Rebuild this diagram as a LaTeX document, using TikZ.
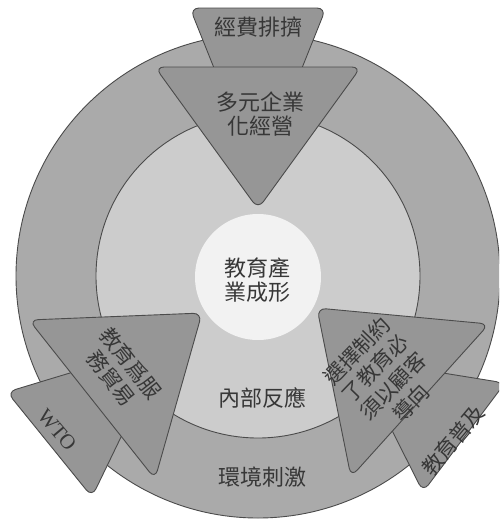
\documentclass[tikz,border=0pt]{standalone}
\usepackage{fontspec}
\newfontfamily\cjk{Noto Sans CJK TC}
\newfontfamily\wtofont{Liberation Serif}
\definecolor{outerring}{RGB}{170,170,170}
\definecolor{innerring}{RGB}{204,204,204}
\definecolor{hubfill}{RGB}{242,242,242}
\definecolor{trifill}{RGB}{150,150,150}
\definecolor{edgegray}{RGB}{75,75,75}
\definecolor{inkgray}{RGB}{55,55,55}
\begin{document}
\begin{tikzpicture}[x=1pt,y=-1pt,
  ringline/.style={draw=edgegray, line width=0.9pt},
  tribox/.style={fill=trifill, draw=edgegray, line width=0.9pt, rounded corners=9pt},
  cjktext/.style={text=inkgray, font=\cjk\fontsize{22}{24}\selectfont, align=center, inner sep=0pt},
  smallcjk/.style={text=inkgray, font=\cjk\fontsize{21}{25}\selectfont, align=center, inner sep=0pt},
  wtotext/.style={text=inkgray, font=\wtofont\fontsize{21}{24}\selectfont, inner sep=0pt}]
\useasboundingbox (0,0) rectangle (499,520);
\begin{scope}
\clip (0,0) rectangle (499,520);
% rings
\filldraw[fill=outerring, ringline] (258,276) circle[radius=242];
\filldraw[fill=innerring, ringline] (258,276) circle[radius=162];
\fill[hubfill] (258,277) circle[radius=63];
% back triangles
\filldraw[tribox] (190,8) -- (326,8) -- (258,178) -- cycle;
\filldraw[tribox] (7,392) -- (166,344) -- (92,497) -- cycle;
\filldraw[tribox] (505,383) -- (423,492) -- (356,359) -- cycle;
% front triangles
\filldraw[tribox] (155,67) -- (361,67) -- (258,209) -- cycle;
\filldraw[tribox] (29,320) -- (202,313) -- (155,479) -- cycle;
\filldraw[tribox] (317,308) -- (489,324) -- (351,477) -- cycle;
\end{scope}
% texts
\node[cjktext] (fund) at (258,27) {經費排擠};
\node[cjktext] (multi) at (260,114) {多元企業\\化經營};
\node[cjktext] (core) at (257,280) {教育產\\業成形};
\node[cjktext] (inner) at (262,398) {內部反應};
\node[cjktext] (env) at (262,477) {環境刺激};
\node[smallcjk, rotate=-52] (trade) at (121,371) {教育爲服\\務貿易};
\node[wtotext, rotate=-50] (wto) at (57,430) {WTO};
\node[smallcjk, rotate=46] (choice) at (384,377) {選擇制約\\了教育必\\須以顧客\\導向};
\node[smallcjk, rotate=50] (popular) at (453,440) {教育普及};
\end{tikzpicture}
\end{document}
